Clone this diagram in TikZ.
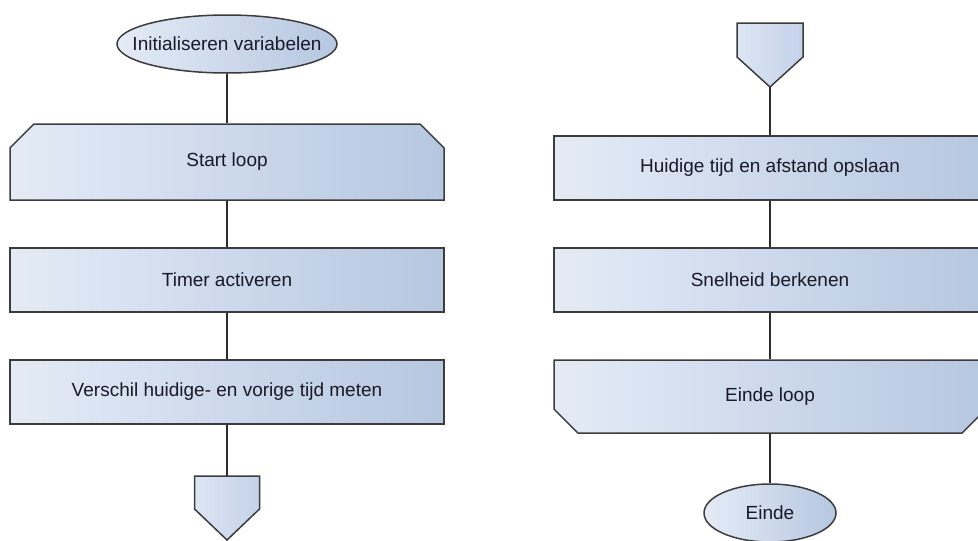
\documentclass[tikz,border=0pt]{standalone}
\usepackage{fontspec}
\setmainfont{Liberation Sans}
\usetikzlibrary{shapes.misc,shapes.geometric}

\definecolor{fillL}{RGB}{228,235,246}
\definecolor{fillR}{RGB}{182,199,225}
\definecolor{pageL}{RGB}{220,229,243}
\definecolor{pageR}{RGB}{196,210,233}
\definecolor{edge}{RGB}{60,60,60}
\definecolor{wire}{RGB}{45,45,45}
\definecolor{ink}{RGB}{25,25,40}

\tikzset{
  shaded/.style={left color=fillL, right color=fillR, draw=edge, line width=1.5pt},
  label text/.style={font=\fontsize{19}{22}\selectfont, text=ink},
  procbox/.style={shaded, label text, rectangle, inner sep=0pt,
    minimum width=432pt, minimum height=64pt},
  loopstart/.style={shaded, label text, chamfered rectangle,
    chamfered rectangle xsep=15pt, chamfered rectangle ysep=15pt,
    chamfered rectangle corners={north west,north east}, inner sep=0pt,
    minimum width=434pt, minimum height=76pt},
  loopend/.style={shaded, label text, chamfered rectangle,
    chamfered rectangle xsep=16pt, chamfered rectangle ysep=15pt,
    chamfered rectangle corners={south west,south east}, inner sep=0pt,
    minimum width=432pt, minimum height=73pt},
  terminal/.style={shaded, label text, ellipse, inner sep=0pt},
  offpage/.style={left color=pageL, right color=pageR, draw=edge, line width=1.5pt},
  link/.style={draw=wire, line width=1.2pt},
}
% text of zero width, so that the ellipse keeps its given size
\newcommand{\zerowide}[1]{\makebox[0pt]{#1}}

\begin{document}
\begin{tikzpicture}[x=1pt,y=-1pt]
  \useasboundingbox (0,0) rectangle (978,541);
  \clip (0,0) rectangle (978,541);

  % ---- first column ----
  \node[terminal, minimum width=220pt, minimum height=58pt] (init) at (227,44) {\zerowide{Initialiseren variabelen}};
  \node[loopstart] (start) at (227,162) {Start loop};
  \node[procbox, minimum width=434pt] (timer) at (227,280) {Timer activeren};
  \node[procbox, minimum width=434pt] (diff) at (227,392) {Verschil huidige- en vorige tijd meten};

  % off-page connector at the bottom of the first column
  \path[offpage] (194.5,476) -- (259.5,476) -- (259.5,509) -- (227,540) -- (194.5,509) -- cycle;
  \coordinate (outA) at (227,476);

  \draw[link] (init.south) -- (start.north);
  \draw[link] (start.south) -- (timer.north);
  \draw[link] (timer.south) -- (diff.north);
  \draw[link] (diff.south) -- (outA);

  % ---- second column ----
  \path[offpage] (737,23) -- (803,23) -- (803,57) -- (770,87) -- (737,57) -- cycle;
  \coordinate (inB) at (770,87);

  \node[procbox] (store) at (770,168) {Huidige tijd en afstand opslaan};
  \node[procbox] (speed) at (770,280) {Snelheid berkenen};
  \node[loopend] (endloop) at (770,396.5) {Einde loop};
  \node[terminal, minimum width=132pt, minimum height=58pt] (stop) at (770,513) {\zerowide{Einde}};

  \draw[link] (inB) -- (store.north);
  \draw[link] (store.south) -- (speed.north);
  \draw[link] (speed.south) -- (endloop.north);
  \draw[link] (endloop.south) -- (stop.north);
\end{tikzpicture}
\end{document}
